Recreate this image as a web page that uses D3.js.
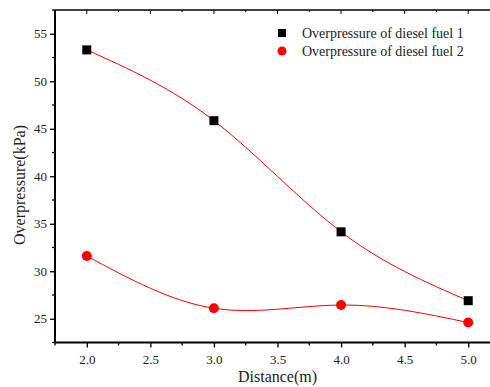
<!DOCTYPE html>
<html>
<head>
<meta charset="utf-8">
<script src="https://cdn.jsdelivr.net/npm/d3@7"></script>
<style>
  body { margin: 0; background: #fff; }
  svg text { font-family: "Liberation Serif", "Times New Roman", serif; }
</style>
</head>
<body>
<script>
(function overpressure(){
  var distances = [2.0, 3.0, 4.0, 5.0];
  var fuel1 = [53.3, 45.85, 34.15, 26.9];
  var fuel2 = [31.6, 26.1, 26.45, 24.6];
  var seriesNames = ["Overpressure of diesel fuel 1", "Overpressure of diesel fuel 2"];
  var xTicks = [2.0, 2.5, 3.0, 3.5, 4.0, 4.5, 5.0];
  var yTicks = [25, 30, 35, 40, 45, 50, 55];

  var width = 490, height = 387;
  var left = 55, top = 10, right = 500, bottom = 342.5;
  var serif = "Liberation Serif";

  var svg = d3.select("body").append("svg")
    .attr("width", width)
    .attr("height", height);

  var x = d3.scaleLinear().domain([1.75, 5.25]).range([left, right]);
  var y = d3.scaleLinear().domain([22.5, 57.5]).range([bottom, top]);

  // minor ticks halfway between majors
  var xMinor = d3.range(1.75, 5.26, 0.25).filter(function(d){ return Math.abs(d * 2 - Math.round(d * 2)) > 0.01; });
  var yMinor = d3.range(22.5, 57.6, 2.5).filter(function(d){ return Math.abs(d / 5 - Math.round(d / 5)) > 0.01; });

  // bottom axis
  var xAxis = svg.append("g").attr("transform", "translate(0," + bottom + ")")
    .call(d3.axisBottom(x).tickValues(xTicks).tickFormat(d3.format(".1f")).tickSize(5).tickSizeOuter(0));
  xAxis.attr("font-family", serif);
  xAxis.selectAll(".domain").remove();
  xAxis.selectAll("line").attr("stroke", "#000").attr("stroke-width", 1.3);
  xAxis.selectAll("text").attr("font-size", 13).attr("fill", "#222").attr("dy", "1.05em")
    .attr("font-family", serif);
  xAxis.selectAll(".minor").data(xMinor).enter().append("line")
    .attr("x1", function(d){ return x(d); }).attr("x2", function(d){ return x(d); })
    .attr("y1", 0).attr("y2", 3).attr("stroke", "#000").attr("stroke-width", 1.3);

  // top axis, ticks pointing in
  var topAxis = svg.append("g").attr("transform", "translate(0," + top + ")");
  topAxis.selectAll(".maj").data(xTicks.concat(xMinor)).enter().append("line")
    .attr("x1", function(d){ return x(d); }).attr("x2", function(d){ return x(d); })
    .attr("y1", 0).attr("y2", function(d){ return xTicks.indexOf(d) >= 0 ? 4 : 2; })
    .attr("stroke", "#000").attr("stroke-width", 1);

  // left axis
  var yAxis = svg.append("g").attr("transform", "translate(" + left + ",0)")
    .call(d3.axisLeft(y).tickValues(yTicks).tickSize(5).tickSizeOuter(0));
  yAxis.attr("font-family", serif);
  yAxis.selectAll(".domain").remove();
  yAxis.selectAll("line").attr("stroke", "#000").attr("stroke-width", 1.3);
  yAxis.selectAll("text").attr("font-size", 13).attr("fill", "#222").attr("x", -8)
    .attr("font-family", serif);
  yAxis.selectAll(".minor").data(yMinor).enter().append("line")
    .attr("x1", 0).attr("x2", -3)
    .attr("y1", function(d){ return y(d); }).attr("y2", function(d){ return y(d); })
    .attr("stroke", "#000").attr("stroke-width", 1.3);

  // frame lines
  svg.append("line").attr("x1", left).attr("x2", right).attr("y1", bottom).attr("y2", bottom)
    .attr("stroke", "#000").attr("stroke-width", 2);
  svg.append("line").attr("x1", left).attr("x2", right).attr("y1", top).attr("y2", top)
    .attr("stroke", "#000").attr("stroke-width", 1.6);
  svg.append("line").attr("x1", left).attr("x2", left).attr("y1", top).attr("y2", bottom)
    .attr("stroke", "#000").attr("stroke-width", 2);

  // axis titles
  svg.append("text").attr("x", (left + right) / 2).attr("y", 382)
    .attr("text-anchor", "middle").attr("font-size", 16).attr("fill", "#222")
    .attr("font-family", serif)
    .text("Distance(m)");
  svg.append("text").attr("transform", "translate(25,185) rotate(-90)")
    .attr("text-anchor", "middle").attr("font-size", 16).attr("fill", "#222")
    .attr("font-family", serif)
    .text("Overpressure(kPa)");

  var line = d3.line()
    .x(function(d){ return x(d[0]); })
    .y(function(d){ return y(d[1]); })
    .curve(d3.curveNatural);

  var pts1 = d3.zip(distances, fuel1);
  var pts2 = d3.zip(distances, fuel2);

  [pts1, pts2].forEach(function(pts){
    svg.append("path").datum(pts).attr("d", line)
      .attr("fill", "none").attr("stroke", "#ff0000").attr("stroke-width", 1);
  });

  svg.selectAll(".sq").data(pts1).enter().append("rect")
    .attr("x", function(d){ return x(d[0]) - 4.5; })
    .attr("y", function(d){ return y(d[1]) - 4.5; })
    .attr("width", 9).attr("height", 9).attr("fill", "#000");

  svg.selectAll(".dot").data(pts2).enter().append("circle")
    .attr("cx", function(d){ return x(d[0]); })
    .attr("cy", function(d){ return y(d[1]); })
    .attr("r", 5).attr("fill", "#ff0000");

  // legend
  var legend = svg.append("g");
  legend.append("rect").attr("x", 278).attr("y", 29).attr("width", 8).attr("height", 8).attr("fill", "#000");
  legend.append("circle").attr("cx", 282).attr("cy", 51).attr("r", 4.5).attr("fill", "#ff0000");
  legend.selectAll("text").data(seriesNames).enter().append("text")
    .attr("x", 302).attr("y", function(d, i){ return 38 + i * 18; })
    .attr("font-size", 14).attr("fill", "#222").attr("font-family", serif)
    .text(function(d){ return d; });
})();
</script>
</body>
</html>
